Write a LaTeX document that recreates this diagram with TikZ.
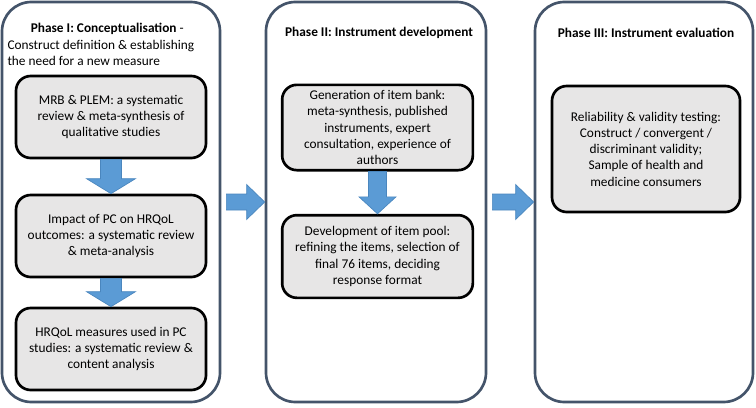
\documentclass[tikz,border=0pt]{standalone}
\usepackage{fontspec}
\setmainfont{Carlito}
\usetikzlibrary{calc}

\definecolor{phaseline}{HTML}{44546A}
\definecolor{stagefill}{HTML}{E7E6E6}
\definecolor{arrowfill}{HTML}{5B9BD5}
\definecolor{arrowline}{HTML}{4A86BE}

\tikzset{every picture/.style={line width=0.75pt}}
\tikzset{
	phase/.style={draw=phaseline, line width=2pt, rounded corners=22pt, minimum width=#1, minimum height=300pt, inner sep=0pt},
	stage/.style={draw=black, fill=stagefill, line width=2pt, rounded corners=11pt, align=center, inner sep=0pt, font=\fontsize{10}{12.2}\selectfont},
	phasetitle/.style={inner sep=0pt, font=\fontsize{10}{12.2}\selectfont},
	% block arrows: half shaft, half head, head length
	fatdown/.style n args={3}{fill=arrowfill, draw=arrowline, line width=0.5pt,
		to path={let \p1=(\tikztostart), \p2=(\tikztotarget) in
			(\x1-#1,\y1) -- (\x1-#1,\y2+#3) -- (\x1-#2,\y2+#3) -- (\x1,\y2) -- (\x1+#2,\y2+#3) -- (\x1+#1,\y2+#3) -- (\x1+#1,\y1) -- cycle}},
	fatright/.style n args={3}{fill=arrowfill, draw=arrowline, line width=0.5pt,
		to path={let \p1=(\tikztostart), \p2=(\tikztotarget) in
			(\x1,\y1-#1) -- (\x2-#3,\y1-#1) -- (\x2-#3,\y1-#2) -- (\x2,\y1) -- (\x2-#3,\y1+#2) -- (\x2-#3,\y1+#1) -- (\x1,\y1+#1) -- cycle}}
}

\begin{document}
\begin{tikzpicture}[x=0.75pt,y=-0.75pt]
	\useasboundingbox (0,0) rectangle (756,407);

	% Phase frames
	\node [phase=163.5pt] (ph1) at (111,202) {};
	\node [phase=165pt] (ph2) at (376,202) {};
	\node [phase=163.5pt] (ph3) at (644,202) {};

	% Phase titles
	\node [phasetitle, anchor=north west, align=left] (t1) at (7,23) {\hspace*{17.5pt}\textbf{Phase I: Conceptualisation} -\\Construct definition \& establishing\\the need for a new measure};
	\node [phasetitle] (t2) at (379,33) {\textbf{Phase II: Instrument development}};
	\node [phasetitle] (t3) at (646,33) {\textbf{Phase III: Instrument evaluation}};

	% Phase I stages
	\node [stage, minimum width=142.5pt, minimum height=61.5pt] (mrb) at (111,117) {MRB \& PLEM: a systematic\\review \& meta-synthesis of\\qualitative studies};
	\node [stage, minimum width=142.5pt, minimum height=61.5pt] (impact) at (111,236) {Impact of PC on HRQoL\\outcomes: a systematic review\\\& meta-analysis};
	\node [stage, minimum width=142.5pt, minimum height=61.5pt] (measures) at (111,349) {HRQoL measures used in PC\\studies: a systematic review \&\\content analysis};

	% Phase II stages
	\node [stage, minimum width=143pt, minimum height=64pt] (bank) at (377.5,127.5) {Generation of item bank:\\meta-synthesis, published\\instruments, expert\\consultation, experience of\\authors};
	\node [stage, minimum width=143pt, minimum height=62pt] (pool) at (377.5,256.5) {Development of item pool:\\refining the items, selection of\\final 76 items, deciding\\response format};

	% Phase III stage
	\node [stage, minimum width=141pt, minimum height=94.5pt] (testing) at (646,149) {Reliability \& validity testing:\\Construct / convergent /\\discriminant validity;\\Sample of health and\\medicine consumers};

	% Block arrows
	\draw [fatdown={7.9pt}{18.4pt}{11.25pt}] (mrb.south) to (impact.north);
	\draw [fatdown={7.9pt}{18.4pt}{11.25pt}] (impact.south) to (measures.north);
	\draw [fatdown={6.75pt}{13.9pt}{12.75pt}] (bank.south) to (pool.north);
	\draw [fatright={6pt}{13.1pt}{13.5pt}] ([xshift=3.75pt]ph1.east) to (ph2.west);
	\draw [fatright={6pt}{13.1pt}{13.5pt}] ([xshift=3.75pt]ph2.east) to (ph3.west);
\end{tikzpicture}
\end{document}
